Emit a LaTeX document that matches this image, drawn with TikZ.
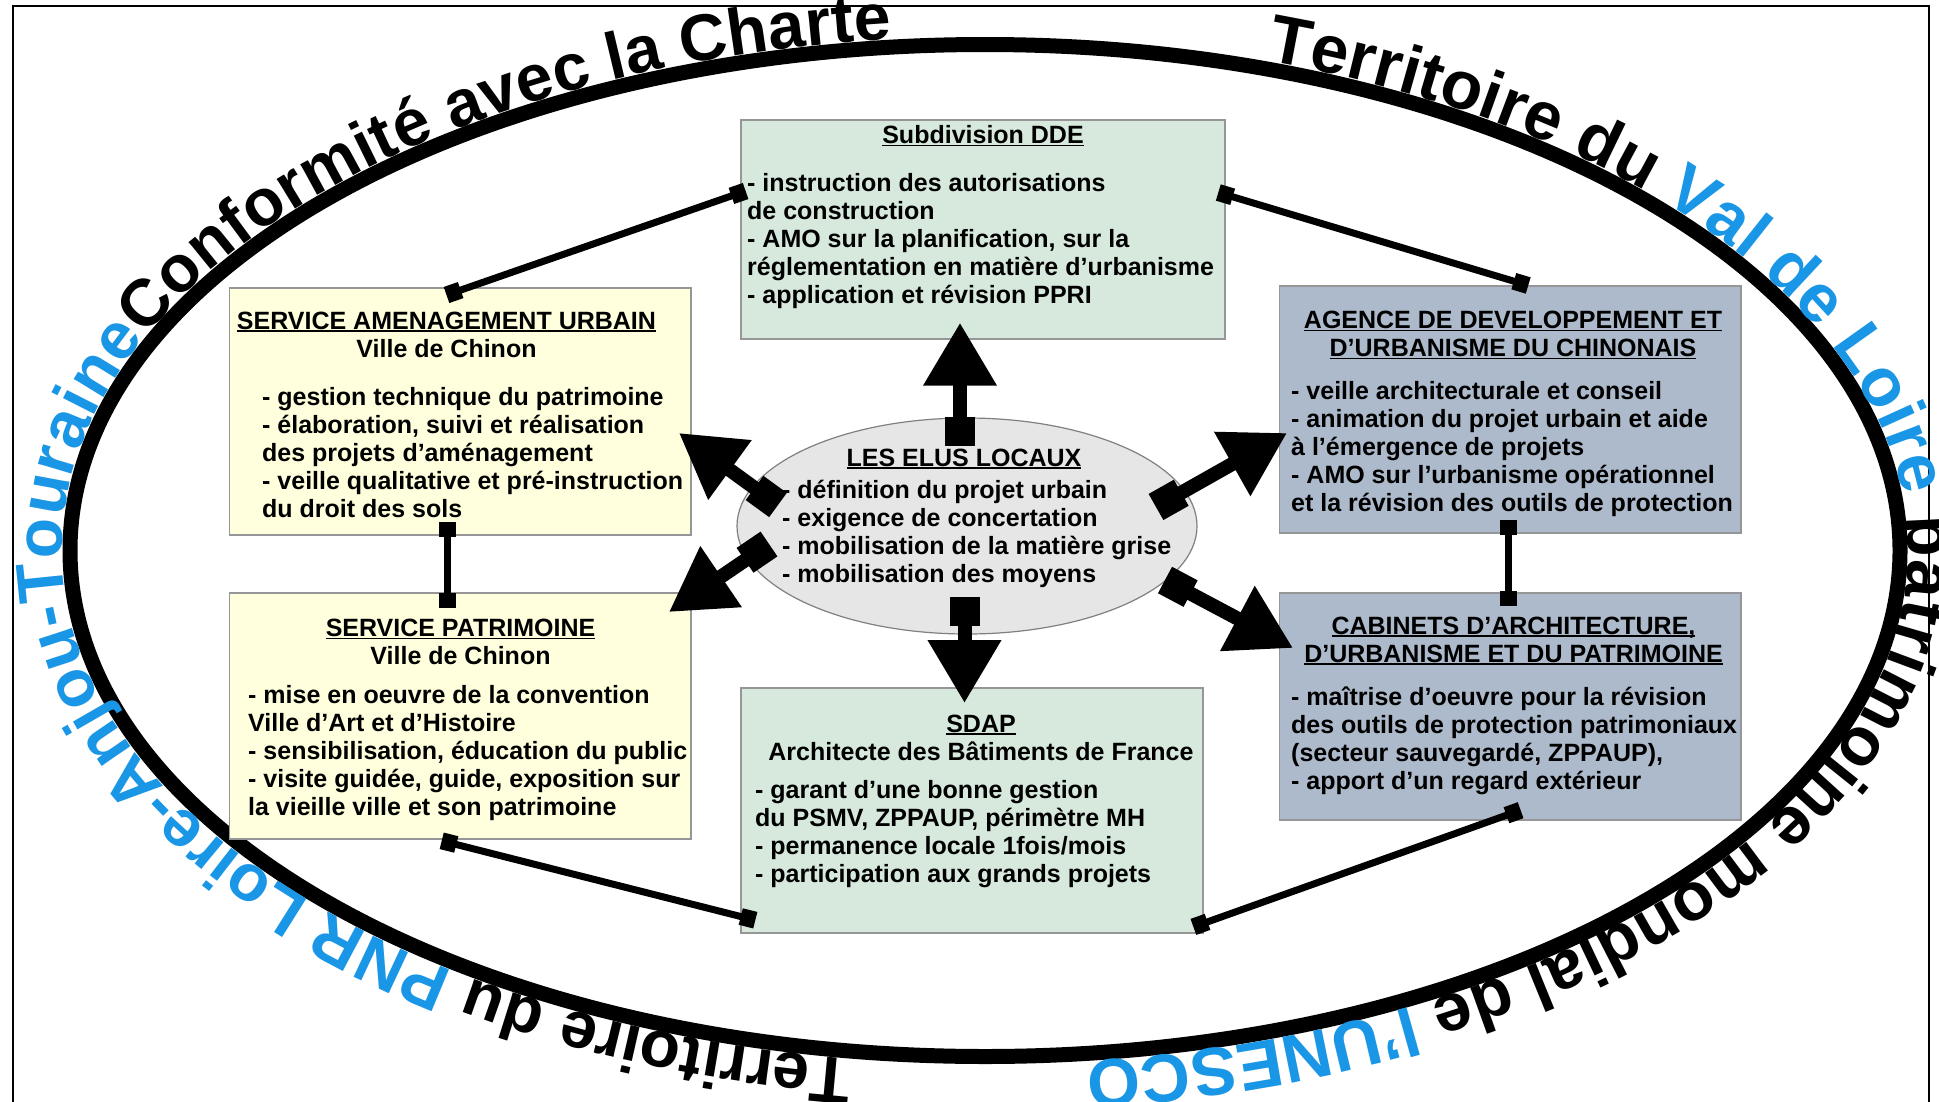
\documentclass[tikz,border=0pt]{standalone}
\usepackage{fontspec}
\setmainfont{Liberation Sans}
\usetikzlibrary{arrows.meta,decorations.text,shapes.geometric}
\definecolor{ddeG}{RGB}{214,233,220}
\definecolor{villeY}{RGB}{255,255,221}
\definecolor{agB}{RGB}{173,186,203}
\definecolor{elG}{RGB}{230,230,230}
\definecolor{arcB}{RGB}{25,150,230}
\definecolor{bordG}{RGB}{150,150,150}
\newcommand\bodyfont{\bfseries\fontsize{25}{28}\selectfont}
\newcommand\arcfmt{\bfseries\fontsize{68}{72}\selectfont}
\newcommand\arcfmtb{\bfseries\fontsize{66}{70}\selectfont}
\newsavebox\ulbox
\newcommand\ulx[1]{\sbox\ulbox{#1}\rlap{\rule[-2.6pt]{\wd\ulbox}{1.8pt}}\usebox\ulbox}
\tikzset{
  box/.style={rectangle,draw=bordG,line width=1.5pt,inner sep=0pt},
  txtL/.style={inner sep=0pt,align=left,anchor=north west,font=\bodyfont},
  txtC/.style={inner sep=0pt,align=center,anchor=north,font=\bodyfont},
  conn/.style={line width=7pt,{Square[length=15pt,width=17pt]}-{Square[length=15pt,width=17pt]}},
  bigarr/.style={line width=14pt,{Square[length=29pt,width=30pt]}-{Triangle[length=63pt,width=70pt]}}
}
\begin{document}
\begin{tikzpicture}[x=1pt,y=1pt]
\useasboundingbox (0,0) rectangle (1939,-1101);
\fill[white] (0,0) rectangle (1939,-1101);
% frame
\draw[line width=2pt] (13,-1110) -- (13,-6) -- (1929,-6) -- (1929,-1110);
% big ellipse
\draw[line width=15pt] (985,-550.5) ellipse[x radius=915, y radius=506];
% text along the ellipse
\path[decorate, decoration={text along path, raise=8pt, text align=left,
  text={|\arcfmtb\color{black}|Territoire du |\arcfmtb\color{arcB}|PNR Loire-Anjou-Touraine|\arcfmtb\color{black}|Conformité avec la Charte}}]
  (985,-550.5) ++(261.7:915 and 506) arc[start angle=261.7, end angle=80, x radius=915, y radius=506];
\path[decorate, decoration={text along path, raise=8pt, text align=left,
  text={|\arcfmt\color{black}|Territoire du |\arcfmt\color{arcB}|Val de Loire|\arcfmt\color{black}| patrimoine mondial de |\arcfmt\color{arcB}|l’UNESCO}}]
  (985,-550.5) ++(72.2:915 and 506) arc[start angle=72.2, end angle=-100, x radius=915, y radius=506];

% boxes
\node[box, fill=ddeG, minimum width=484pt, minimum height=219pt] (dde) at (983,-229.5) {};
\node[box, fill=villeY, minimum width=461.4pt, minimum height=247pt] (sau) at (460.3,-411.5) {};
\node[box, fill=villeY, minimum width=461.4pt, minimum height=246pt] (sp) at (460.3,-716) {};
\node[box, fill=ddeG, minimum width=462pt, minimum height=245pt] (sdap) at (972,-810.5) {};
\node[box, fill=agB, minimum width=461.4pt, minimum height=247pt] (agence) at (1510.3,-409.5) {};
\node[box, fill=agB, minimum width=461.4pt, minimum height=227pt] (cab) at (1510.3,-706.5) {};
\node[ellipse, draw=gray, fill=elG, line width=1.2pt, minimum width=460pt, minimum height=216pt, inner sep=0pt] (elus) at (967,-526) {};

% texts
\node[txtC] (ddeT) at (983,-123.9) {\strut\ulx{Subdivision DDE}};
\node[txtL] (ddeB) at (747,-172.1) {\strut- instruction des autorisations\\de construction\\- AMO sur la planification, sur la\\réglementation en matière d’urbanisme\\- application et révision PPRI};
\node[txtC] (sauT) at (446.5,-309.4) {\strut\ulx{SERVICE AMENAGEMENT URBAIN}\\Ville de Chinon};
\node[txtL] (sauB) at (262,-385.9) {\strut- gestion technique du patrimoine\\- élaboration, suivi et réalisation\\des projets d’aménagement\\- veille qualitative et pré-instruction\\du droit des sols};
\node[txtC] (spT) at (460.5,-616.9) {\strut\ulx{SERVICE PATRIMOINE}\\Ville de Chinon};
\node[txtL] (spB) at (248,-683.9) {\strut- mise en oeuvre de la convention\\Ville d’Art et d’Histoire\\- sensibilisation, éducation du public\\- visite guidée, guide, exposition sur\\la vieille ville et son patrimoine};
\node[txtC] (sdapT) at (981,-712.4) {\strut\ulx{SDAP}\\Architecte des Bâtiments de France};
\node[txtL] (sdapB) at (755,-778.4) {\strut- garant d’une bonne gestion\\du PSMV, ZPPAUP, périmètre MH\\- permanence locale 1fois/mois\\- participation aux grands projets};
\node[txtC] (agT) at (1513,-308.9) {\strut\ulx{AGENCE DE DEVELOPPEMENT ET}\\\ulx{D’URBANISME DU CHINONAIS}};
\node[txtL] (agB) at (1291,-379.4) {\strut- veille architecturale et conseil\\- animation du projet urbain et aide\\à l’émergence de projets\\- AMO sur l’urbanisme opérationnel\\et la révision des outils de protection};
\node[txtC] (cabT) at (1513.5,-614.4) {\strut\ulx{CABINETS D’ARCHITECTURE,}\\\ulx{D’URBANISME ET DU PATRIMOINE}};
\node[txtL] (cabB) at (1291,-685.4) {\strut- maîtrise d’oeuvre pour la révision\\des outils de protection patrimoniaux\\(secteur sauvegardé, ZPPAUP),\\- apport d’un regard extérieur};
\node[txtC] (elT) at (964,-446.4) {\strut\ulx{LES ELUS LOCAUX}};
\node[txtL] (elB) at (782,-478.4) {\strut- définition du projet urbain\\- exigence de concertation\\- mobilisation de la matière grise\\- mobilisation des moyens};

% connector ends
\coordinate (c1a) at (745.6,-191);   \coordinate (c1b) at (446.5,-295);
\coordinate (c2a) at (1218.3,-192.5); \coordinate (c2b) at (1528.2,-285.5);
\coordinate (c3a) at (447.6,-522);   \coordinate (c3b) at (447.6,-608);
\coordinate (c4a) at (1508,-520);    \coordinate (c4b) at (1508,-606);
\coordinate (c5a) at (441.7,-840.8); \coordinate (c5b) at (755.3,-920.2);
\coordinate (c6a) at (1520.6,-810.2); \coordinate (c6b) at (1193.4,-926.9);
\draw[conn] (c1a) -- (c1b);
\draw[conn] (c2a) -- (c2b);
\draw[conn] (c3a) -- (c3b);
\draw[conn] (c4a) -- (c4b);
\draw[conn] (c5a) -- (c5b);
\draw[conn] (c6a) -- (c6b);

% big arrows from the elected officials
\coordinate (aUt) at (960,-446);   \coordinate (aUh) at (960,-322.7);
\coordinate (aDt) at (964.5,-597); \coordinate (aDh) at (964.5,-703);
\coordinate (aULt) at (778,-505);  \coordinate (aULh) at (679,-433);
\coordinate (aDLt) at (769,-544);  \coordinate (aDLh) at (669,-612);
\coordinate (aURt) at (1156,-507); \coordinate (aURh) at (1287,-433);
\coordinate (aDRt) at (1165,-580); \coordinate (aDRh) at (1293,-648);
\draw[bigarr] (aUt) -- (aUh);
\draw[bigarr] (aDt) -- (aDh);
\draw[bigarr] (aULt) -- (aULh);
\draw[bigarr] (aDLt) -- (aDLh);
\draw[bigarr] (aURt) -- (aURh);
\draw[bigarr] (aDRt) -- (aDRh);
\end{tikzpicture}
\end{document}
